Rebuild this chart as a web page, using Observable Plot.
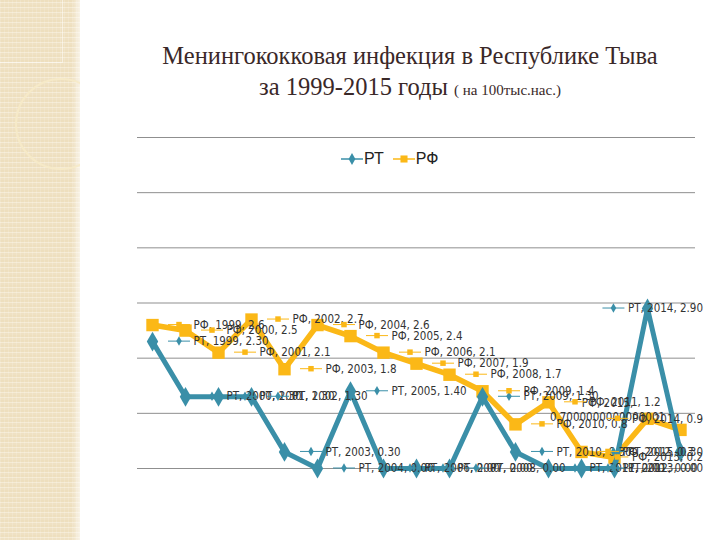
<!DOCTYPE html>
<html><head><meta charset="utf-8">
<script src="https://cdn.jsdelivr.net/npm/d3@7"></script>
<script src="https://cdn.jsdelivr.net/npm/@observablehq/plot@0.6"></script>
<style>
body{margin:0;background:#fff;}
#page{position:relative;width:720px;height:540px;overflow:hidden;background:#fff;}
#strip{position:absolute;left:0;top:0;width:80px;height:540px;overflow:hidden;
 background:
  linear-gradient(90deg, rgba(255,255,255,0) 0 72px, rgba(255,255,255,0.6) 80px),
  repeating-linear-gradient(90deg, rgba(255,255,255,0.15) 0 1px, rgba(0,0,0,0) 1px 4px),
  repeating-linear-gradient(180deg,#eedfbe 0 2px,#f5ebd5 2px 3px,#efe1c3 3px 5px);}
#circle{position:absolute;left:15px;top:78px;width:88px;height:88px;border-radius:50%;border:2px solid rgba(246,234,200,0.9);}
#box{position:absolute;left:0;top:0;width:62px;height:62px;border-right:1px solid rgba(255,255,255,0.5);border-bottom:1px solid rgba(255,255,255,0.5);}
#title{position:absolute;left:80px;width:660px;top:40px;text-align:center;font-family:"Liberation Serif","DejaVu Serif",serif;color:#3a2828;font-size:24.5px;line-height:31px;}
#title small{font-size:15px;}
#legend{position:absolute;top:150px;left:341px;font-family:"Liberation Sans",Arial,sans-serif;font-size:16px;color:#222;display:flex;align-items:center;gap:3px;}
#legend span{display:inline-flex;align-items:center;}
#chart{position:absolute;left:0;top:110px;}
</style></head>
<body><div id="page">
<div id="strip"><div id="box"></div><div id="circle"></div></div>
<div id="title">Менингококковая инфекция в Республике Тыва<br>за 1999-2015 годы <small>( на 100тыс.нас.)</small></div>
<div id="chart"></div>
<div id="legend"></div>
</div>
<script>
const years = [1999,2000,2001,2002,2003,2004,2005,2006,2007,2008,2009,2010,2011,2012,2013,2014,2015];
const rtValues = [2.30,1.30,1.30,1.30,0.30,0.00,1.40,0.00,0.00,0.00,1.30,0.30,0.00,0.00,0.00,2.90,0.30];
const rfValues = [2.6,2.5,2.1,2.7,1.8,2.6,2.4,2.1,1.9,1.7,1.4,0.8,1.2,0.3,0.2,0.9,0.7000000000000001];
const seriesNames = ["РТ","РФ"];
const yTicks = [0,1,2,3,4,5,6];

const RT_COLOR = "#3a8fa8";
const RF_COLOR = "#fbb817";

const rt = years.map((year,i)=>({year,value:rtValues[i],series:seriesNames[0],label:`${seriesNames[0]}, ${year}, ${rtValues[i].toFixed(2)}`}));
const rf = years.map((year,i)=>({year,value:rfValues[i],series:seriesNames[1],label:`${seriesNames[1]}, ${year}, ${String(rfValues[i])}`}));
const rfMain = rf.slice(0,-1);
const rfLast = rf.slice(-1).map(d=>({...d,label:`${d.series}, ${d.year},\n${String(d.value)}`}));

const labelFont = `"Liberation Sans Narrow","Arial Narrow","DejaVu Sans Condensed",sans-serif`;

const plot = Plot.plot({
  width:720, height:430,
  marginTop:27, marginBottom:72, marginLeft:152, marginRight:40,
  x:{domain:[1999,2015], axis:null},
  y:{domain:[0,6], axis:null},
  marks:[
    Plot.ruleY(yTicks,{stroke:"#8f8f8f",strokeWidth:1,insetLeft:-15,insetRight:-15}),
    Plot.line(rf,{x:"year",y:"value",stroke:RF_COLOR,strokeWidth:5.5,strokeLinejoin:"round"}),
    Plot.dot(rf,{x:"year",y:"value",symbol:"square",r:7,fill:RF_COLOR}),
    Plot.line(rt,{x:"year",y:"value",stroke:RT_COLOR,strokeWidth:5,strokeLinejoin:"round"}),
    Plot.dot(rt,{x:"year",y:"value",symbol:"diamond",r:6,fill:RT_COLOR}),
    Plot.text(rt,{x:"year",y:"value",text:"label",dx:41,textAnchor:"start",fontSize:11.5,fill:"#333",fontFamily:labelFont,className:"lbl-rt"}),
    Plot.text(rfMain,{x:"year",y:"value",text:"label",dx:41,textAnchor:"start",fontSize:11.5,fill:"#333",fontFamily:labelFont,className:"lbl-rf"}),
    Plot.text(rfLast,{x:"year",y:"value",text:"label",dx:-73,dy:-20,textAnchor:"middle",fontSize:11.5,fill:"#333",fontFamily:labelFont,lineHeight:1.2})
  ]
});
document.getElementById("chart").appendChild(plot);

// leaders + clamp labels at the right edge
const svgNode = plot.tagName.toLowerCase()==="svg"?plot:plot.querySelector("svg");
const svg = d3.select(svgNode);
const sRect = svgNode.getBoundingClientRect();
const xs = plot.scale("x"), ys = plot.scale("y");
const overlay = svg.append("g");
function leaders(cls, data, color, symbol){
  const texts = svgNode.querySelectorAll(`g.${cls} text`);
  texts.forEach((t,i)=>{
    const d = data[i];
    const r = t.getBoundingClientRect();
    const right = r.right - sRect.left;
    const shift = Math.max(0, right - 703);
    if (shift>0){
      const tr = t.getAttribute("transform")||"";
      t.setAttribute("transform", `translate(${-shift},0) ${tr}`);
    }
    const x0 = xs.apply(d.year) + 41 - shift;
    const y0 = ys.apply(d.value);
    overlay.append("line").attr("x1",x0-25).attr("x2",x0-3).attr("y1",y0).attr("y2",y0).attr("stroke",color).attr("stroke-width",1);
    overlay.append("path").attr("transform",`translate(${x0-14},${y0})`).attr("d",d3.symbol(symbol,symbol===d3.symbolSquare?30:26)()).attr("fill",color);
  });
}
leaders("lbl-rt", rt, RT_COLOR, d3.symbolDiamond);
leaders("lbl-rf", rfMain, RF_COLOR, d3.symbolSquare);

// legend
const leg = d3.select("#legend");
[[seriesNames[0],RT_COLOR,d3.symbolDiamond,40],[seriesNames[1],RF_COLOR,d3.symbolSquare,50]].forEach(([name,color,sym,size])=>{
  const s = leg.append("span");
  const sv = s.append("svg").attr("width",22).attr("height",14);
  sv.append("line").attr("x1",0).attr("x2",22).attr("y1",7).attr("y2",7).attr("stroke",color).attr("stroke-width",1.5);
  sv.append("path").attr("transform","translate(11,7)").attr("d",d3.symbol(sym,size)()).attr("fill",color);
  s.append("span").text(name).style("margin-left","1px").style("margin-right","6px");
});
</script>
</body></html>
